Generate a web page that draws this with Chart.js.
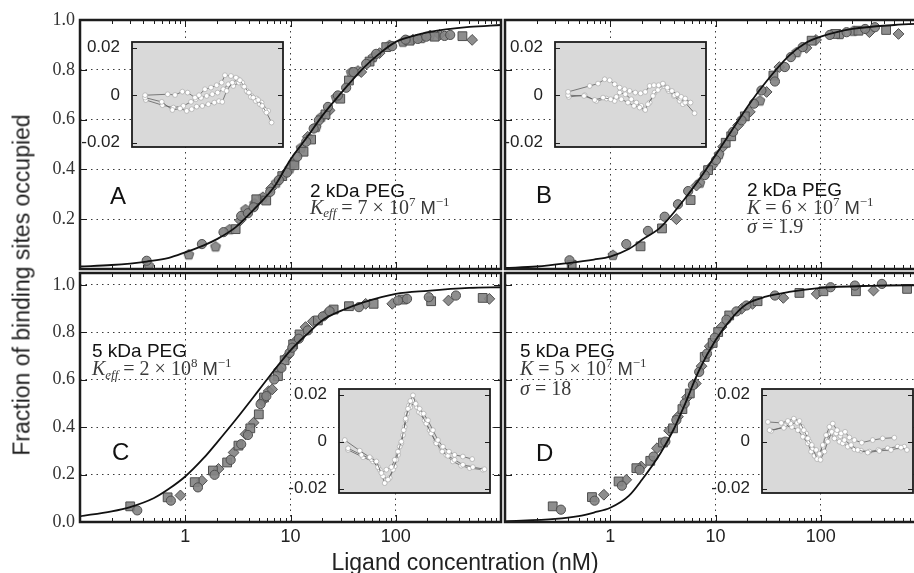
<!DOCTYPE html>
<html>
<head>
<meta charset="utf-8">
<script src="https://cdn.jsdelivr.net/npm/chart.js@4.4.1/dist/chart.umd.min.js"></script>
<style>
  html, body { margin: 0; padding: 0; background: #fff; }
  #fig { position: relative; width: 914px; height: 573px; overflow: hidden; background: #fff;
         font-family: "Liberation Sans", Arial, sans-serif; }
  #fig canvas { position: absolute; left: 0; top: 0; }
  .lbl { position: absolute; white-space: nowrap; line-height: 1; color: #111; }
  .pl  { font-size: 24px; }
  .an  { font-size: 19px; }
  .mk  { font-family: "Liberation Serif", "Times New Roman", serif; font-size: 20px; color: #3a3a3a; }
  .mk sup, .mk sub { font-size: 0.65em; vertical-align: baseline; position: relative; line-height: 0; }
  .mk sup { top: -0.6em; }
  .mk sub { top: 0.3em; font-style: italic; }
  .mk .m  { font-family: "Liberation Sans", Arial, sans-serif; font-size: 0.92em; }
  .yt { font-size: 23px; left: 21.8px; top: 285px; transform: translate(-50%, -50%) rotate(-90deg); color: #222; }
  .xt { font-size: 23px; left: 465px; top: 550.5px; transform: translateX(-50%); color: #222; }
</style>
</head>
<body>
<div id="fig">
  <canvas id="cA" width="940" height="573"></canvas>
  <canvas id="cB" width="940" height="573"></canvas>
  <canvas id="cC" width="940" height="573"></canvas>
  <canvas id="cD" width="940" height="573"></canvas>
  <canvas id="iA" width="940" height="573"></canvas>
  <canvas id="iB" width="940" height="573"></canvas>
  <canvas id="iC" width="940" height="573"></canvas>
  <canvas id="iD" width="940" height="573"></canvas>

  <div class="lbl pl" style="left:110px;top:183.7px">A</div>
  <div class="lbl pl" style="left:536px;top:183.2px">B</div>
  <div class="lbl pl" style="left:112px;top:440.4px">C</div>
  <div class="lbl pl" style="left:536px;top:441.4px">D</div>

  <div class="lbl an" style="left:310px;top:180.6px">2 kDa PEG</div>
  <div class="lbl mk" style="left:310px;top:196.5px"><i>K</i><sub>eff</sub> = 7 × 10<sup>7</sup> <span class="m">M</span><sup>−1</sup></div>

  <div class="lbl an" style="left:747px;top:179.9px">2 kDa PEG</div>
  <div class="lbl mk" style="left:747px;top:196.5px"><i>K</i> = 6 × 10<sup>7</sup> <span class="m">M</span><sup>−1</sup></div>
  <div class="lbl mk" style="left:747px;top:216.2px"><i>σ</i> = 1.9</div>

  <div class="lbl an" style="left:92px;top:340.6px">5 kDa PEG</div>
  <div class="lbl mk" style="left:92px;top:358.2px"><i>K</i><sub>eff</sub> = 2 × 10<sup>8</sup> <span class="m">M</span><sup>−1</sup></div>

  <div class="lbl an" style="left:520px;top:340.6px">5 kDa PEG</div>
  <div class="lbl mk" style="left:520px;top:358.2px"><i>K</i> = 5 × 10<sup>7</sup> <span class="m">M</span><sup>−1</sup></div>
  <div class="lbl mk" style="left:520px;top:378.2px"><i>σ</i> = 18</div>

  <div class="lbl yt">Fraction of binding sites occupied</div>
  <div class="lbl xt">Ligand concentration (nM)</div>
</div>

<script>
// ── Data: [concentration nM, fraction occupied] ─────────────────────────────
const aCircles   = [[0.43,0.033],[1.44,0.10],[2.31,0.148],[3.40,0.213],[3.94,0.224],[4.46,0.248],[6.42,0.31],[7.76,0.357],[9.24,0.387],[11.6,0.451],[14.1,0.511],[16.6,0.564],[18.6,0.597],[22.7,0.651],[28.2,0.697],[33.8,0.728],[39.7,0.791],[52.4,0.824],[65.2,0.864],[92.5,0.895],[124,0.921],[162,0.924],[195,0.933],[291,0.936],[329,0.94]];
const aSquares   = [[3.01,0.16],[4.73,0.28],[5.88,0.275],[8.35,0.373],[10.9,0.417],[13.3,0.471],[15.7,0.52],[21.5,0.621],[29.7,0.684],[35.9,0.757],[56.4,0.833],[81.2,0.891],[135,0.917],[234,0.933],[430,0.935]];
const aDiamonds  = [[3.33,0.195],[6.56,0.324],[8.78,0.381],[14.6,0.531],[23.5,0.637],[47.0,0.791],[70.2,0.867],[146,0.921],[261,0.94],[532,0.92]];
const aPentagons = [[0.45,0.015],[1.08,0.059],[1.94,0.091],[2.64,0.16],[3.74,0.24],[4.56,0.264],[5.47,0.29],[7.32,0.347],[9.8,0.404],[10.7,0.427],[12.6,0.488],[17.5,0.571],[19.6,0.611],[27.2,0.691],[37.8,0.791],[43.7,0.797],[60.7,0.851],[87.3,0.90],[117,0.913],[175,0.928],[212,0.94]];

const bCircles   = [[0.41,0.035],[1.42,0.10],[2.28,0.153],[3.29,0.21],[4.4,0.26],[5.5,0.313],[7.9,0.377],[10.1,0.437],[14.7,0.551],[17.7,0.597],[23.2,0.664],[27.3,0.717],[36.7,0.753],[45.6,0.811],[52.0,0.851],[67.3,0.891],[122,0.94],[176,0.951],[264,0.964],[327,0.971]];
const bSquares   = [[0.43,0.017],[1.94,0.091],[3.1,0.163],[5.8,0.277],[8.5,0.397],[12.5,0.507],[14.1,0.533],[19.0,0.613],[35.5,0.777],[81.9,0.917],[137,0.944],[228,0.957],[418,0.96]];
const bDiamonds  = [[4.25,0.2],[6.6,0.335],[9.3,0.415],[11.8,0.491],[16.4,0.577],[21.2,0.631],[30.6,0.711],[40.4,0.811],[73.1,0.888],[90.2,0.92],[290,0.951],[548,0.944]];
const bPentagons = [[1.06,0.057],[7.1,0.347],[10.8,0.461],[26.4,0.677],[58.9,0.871],[152,0.944],[204,0.957]];

const cCircles   = [[0.35,0.049],[0.73,0.09],[1.32,0.146],[1.9,0.199],[2.7,0.262],[3.4,0.328],[3.94,0.367],[5.2,0.497],[5.9,0.531],[7.0,0.601],[8.2,0.65],[9.8,0.713],[10.4,0.735],[12.0,0.773],[14.6,0.808],[20.3,0.867],[23.5,0.889],[44.7,0.906],[105,0.934],[128,0.941],[206,0.948],[373,0.955]];
const cSquares   = [[0.30,0.066],[0.68,0.104],[1.23,0.168],[1.83,0.217],[2.5,0.251],[3.2,0.322],[4.15,0.395],[5.0,0.454],[5.6,0.525],[7.6,0.615],[8.8,0.682],[10.6,0.749],[12.2,0.791],[18.2,0.85],[25.7,0.896],[35.9,0.91],[61.6,0.92],[117,0.938],[217,0.931],[670,0.945]];
const cDiamonds  = [[0.9,0.112],[1.44,0.174],[2.07,0.224],[2.88,0.293],[3.74,0.37],[4.46,0.419],[5.4,0.51],[6.2,0.552],[6.7,0.559],[7.8,0.643],[9.2,0.696],[11.2,0.763],[13.9,0.822],[16.3,0.846],[21.6,0.875],[51.8,0.92],[92.6,0.92],[317,0.934],[775,0.941]];

const dCircles   = [[0.34,0.052],[0.71,0.09],[1.29,0.153],[1.9,0.22],[2.58,0.276],[3.34,0.339],[4.25,0.43],[5.1,0.5],[6.1,0.577],[7.0,0.633],[8.3,0.71],[9.85,0.777],[12.7,0.853],[15.8,0.888],[19.7,0.913],[36.7,0.955],[124,0.99],[211,0.997],[381,1.004]];
const dSquares   = [[0.284,0.066],[0.67,0.105],[1.2,0.171],[1.77,0.227],[2.4,0.258],[3.17,0.335],[3.95,0.395],[4.85,0.476],[5.7,0.542],[7.9,0.696],[9.4,0.755],[10.6,0.801],[13.5,0.871],[25.1,0.931],[62.7,0.966],[106,0.973],[216,0.973],[661,0.983]];
const dDiamonds  = [[0.87,0.115],[1.42,0.178],[1.97,0.234],[2.78,0.311],[3.62,0.385],[4.4,0.444],[5.37,0.525],[6.5,0.584],[7.36,0.657],[8.8,0.741],[11.4,0.822],[17.7,0.899],[22.5,0.92],[44.1,0.945],[91.5,0.962],[317,0.976]];

// fitted curves, sampled by eye from the figure
const curveAx = [0.1,0.2,0.3,0.43,0.7,1,1.5,2,3,5,7,10,15,20,30,50,70,100,150,200,300,500,1000];
const curveAy = [0.01,0.016,0.022,0.03,0.045,0.067,0.095,0.12,0.167,0.26,0.33,0.44,0.54,0.615,0.705,0.81,0.865,0.912,0.937,0.95,0.962,0.972,0.98];
const curveBx = [0.1,0.2,0.4,0.7,1,1.5,2,3,5,7,10,15,20,30,50,70,100,200,500,1000];
const curveBy = [0.004,0.01,0.024,0.038,0.05,0.08,0.117,0.167,0.277,0.36,0.457,0.57,0.65,0.75,0.857,0.905,0.933,0.964,0.98,0.986];
const curveCx = [0.1,0.2,0.3,0.5,0.7,1,1.5,2,3,5,7,10,15,20,30,50,100,200,500,1000];
const curveCy = [0.024,0.045,0.063,0.1,0.14,0.192,0.27,0.335,0.43,0.556,0.64,0.724,0.8,0.85,0.89,0.927,0.962,0.975,0.987,0.99];
const curveDx = [0.1,0.3,0.5,0.7,1,1.5,2,3,4,5,7,10,15,20,30,50,100,300,1000];
const curveDy = [0.003,0.013,0.025,0.04,0.06,0.11,0.178,0.29,0.39,0.486,0.64,0.766,0.87,0.92,0.95,0.97,0.987,0.996,0.999];

// residual insets: x = log10(concentration), y = residual
const resA1x = [-0.37,0.183,0.362,0.54,0.67,0.85,0.947,1.093,1.24,1.378,1.5,1.581,1.728,1.85,1.947,2.053,2.167,2.272,2.394,2.492,2.597,2.72];
const resA1y = [0,0.0004,0.0001,0.0015,0.0011,-0.001,0,0.0025,0.0032,0.0042,0.0053,0.0084,0.0081,0.0074,0.0063,0.0036,0.0011,-0.001,-0.002,-0.0045,-0.0073,-0.0115];
const resA2x = [-0.37,0.037,0.297,0.484,0.646,0.768,0.89,1.028,1.175,1.321,1.435,1.516,1.622,1.76,1.906,2.004,2.11,2.215,2.33,2.435,2.557];
const resA2y = [-0.001,-0.0028,-0.0062,-0.0056,-0.0066,-0.0059,-0.0048,-0.0045,-0.0038,-0.0031,-0.0025,-0.0028,0.0018,0.0053,0.0067,0.0053,0.0018,-0.0007,-0.0024,-0.0038,-0.0062];
const resA3x = [-0.354,0.053,0.321,0.565,0.752,0.866,0.996,1.134,1.272,1.402,1.54,1.663,1.785,1.923,2.028,2.134,2.232,2.354,2.476,2.638];
const resA3y = [-0.002,-0.0042,-0.0052,-0.0045,-0.0028,-0.0017,-0.0011,-0.0003,0.0004,0.0011,0.0025,0.0046,0.0039,0.0053,0.0039,0.0014,-0.0003,-0.0014,-0.0031,-0.0066];

const resB1x = [-0.37,0.158,0.362,0.524,0.646,0.768,0.89,1.012,1.134,1.272,1.402,1.516,1.622,1.728,1.841,1.947,2.053,2.167,2.297,2.394,2.492,2.622];
const resB1y = [0.0014,0.0039,0.0049,0.0067,0.0063,0.0046,0.0032,0.0025,0.0018,0.0011,0.0008,0.0014,0.0039,0.0042,0.0042,0.0049,0.0032,0.0018,0.0004,-0.0007,-0.0014,-0.0031];
const resB2x = [-0.37,0.02,0.28,0.484,0.671,0.809,0.931,1.093,1.24,1.378,1.516,1.581,1.703,1.825,1.947,2.069,2.232,2.378,2.492,2.72];
const resB2y = [0,-0.0003,-0.002,-0.001,-0.0017,-0.0007,-0.0017,-0.0031,-0.0045,-0.0052,-0.0062,-0.0038,-0.0003,0.0022,0.0046,0.0025,0,-0.0014,-0.0031,-0.0076];
const resB3x = [-0.354,0.037,0.321,0.565,0.768,0.89,1.028,1.175,1.297,1.419,1.5,1.622,1.744,1.866,1.971,2.085,2.215,2.354,2.435];
const resB3y = [-0.0007,0,-0.0024,-0.0014,-0.0024,0.0011,0.0004,-0.0017,-0.0031,-0.0045,-0.0059,-0.0031,0.0011,0.0032,0.0039,0.0018,-0.0003,-0.0024,-0.0038];

const resC1x = [-0.549,-0.183,0.061,0.224,0.346,0.468,0.589,0.671,0.752,0.833,0.89,0.939,0.996,1.053,1.118,1.183,1.28,1.378,1.484,1.606,1.728,1.85,1.996,2.134,2.337,2.565];
const resC1y = [0.0007,-0.0038,-0.0066,-0.0084,-0.0133,-0.0119,-0.0108,-0.0077,-0.0042,0,0.0049,0.0098,0.014,0.0173,0.0197,0.0161,0.014,0.0119,0.0091,0.0049,0.0007,-0.0021,-0.0042,-0.0056,-0.0063,-0.0074];
const resC2x = [-0.467,-0.142,0.102,0.264,0.386,0.508,0.63,0.711,0.793,0.874,0.939,1.02,1.102,1.215,1.321,1.443,1.565,1.687,1.833,1.972,2.134,2.337,2.581,2.866];
const resC2y = [-0.0028,-0.0056,-0.0074,-0.0108,-0.0147,-0.0161,-0.0119,-0.0077,-0.0021,0.0028,0.0091,0.0154,0.0176,0.0147,0.0119,0.0077,0.0035,-0.0007,-0.0042,-0.006,-0.0077,-0.0098,-0.0108,-0.0117];
const resC3x = [-0.467,-0.102,0.142,0.305,0.427,0.549,0.671,0.752,0.833,0.915,0.972,1.053,1.159,1.264,1.402,1.524,1.671,1.809,1.931,2.093,2.297,2.5,2.825];
const resC3y = [-0.0035,-0.0066,-0.0084,-0.0119,-0.0176,-0.0154,-0.0105,-0.0056,-0.0007,0.0063,0.0119,0.0147,0.0168,0.0126,0.0091,0.0049,0,-0.0028,-0.0056,-0.0084,-0.0102,-0.0112,-0.0119];

const resD1x = [-0.546,-0.221,-0.058,0.088,0.226,0.332,0.43,0.527,0.633,0.714,0.795,0.876,0.958,1.039,1.145,1.243,1.34,1.446,1.568,1.747,2.015,2.259,2.543];
const resD1y = [0.0084,0.008,0.0088,0.0098,0.0088,0.0049,0.0014,-0.0014,-0.0035,-0.0052,-0.0014,0.0028,0.0063,0.0077,0.0049,0.0035,0.0042,0.0018,0.0007,-0.0004,0.0007,0.0014,0.0017];
const resD2x = [-0.505,-0.156,0.007,0.169,0.283,0.389,0.47,0.552,0.657,0.739,0.836,0.917,1.015,1.121,1.226,1.324,1.487,1.649,1.893,2.177,2.462,2.706,2.852];
const resD2y = [0.0049,0.0059,0.0077,0.008,0.0063,0.0035,0,-0.0028,-0.0074,-0.0077,-0.0042,0,0.0042,0.0035,0.0024,0.0007,-0.0014,-0.0035,-0.0046,-0.0039,-0.0035,-0.0025,-0.0035];
const resD3x = [-0.465,-0.123,0.04,0.186,0.308,0.43,0.511,0.592,0.69,0.795,0.876,0.982,1.08,1.202,1.283,1.405,1.568,1.731,1.934,2.153,2.381,2.625,2.787];
const resD3y = [0.0046,0.0066,0.0063,0.0049,0.0021,-0.0007,-0.0042,-0.006,-0.0066,-0.0021,0.0007,0.0035,0.0014,0,-0.0007,-0.0021,-0.0032,-0.0038,-0.0042,-0.0035,-0.0028,-0.0021,-0.0021];

const xMajor  = [1, 10, 100];
const yTicksAB = [0.2, 0.4, 0.6, 0.8, 1.0];
const yTicksCD = [0, 0.2, 0.4, 0.6, 0.8, 1.0];
const resTicks = [-0.02, 0, 0.02];

// ── Layout ───────────────────────────────────────────────────────────────────
const W = 940, H = 573;
const FILL = 'rgba(132,132,132,0.92)', EDGE = '#4e4e4e';

const xMinor = [];
for (const d of [0.1, 1, 10, 100]) for (let k = 2; k <= 9; k++) xMinor.push(+(k * d).toPrecision(2));

const pairs = (arr) => arr.map((p) => ({ x: p[0], y: p[1] }));
const zip = (xs, ys) => xs.map((v, i) => ({ x: v, y: ys[i] }));

function pentagon(r) {
  const s = Math.ceil(2 * r + 3);
  const c = document.createElement('canvas');
  c.width = c.height = s;
  const g = c.getContext('2d');
  g.beginPath();
  for (let i = 0; i < 5; i++) {
    const a = -Math.PI / 2 + i * 2 * Math.PI / 5;
    g.lineTo(s / 2 + r * Math.cos(a), s / 2 + 0.5 + r * Math.sin(a));
  }
  g.closePath();
  g.fillStyle = FILL; g.fill();
  g.strokeStyle = EDGE; g.lineWidth = 1; g.stroke();
  return c;
}
const PENT = pentagon(5.2);

// frame + inward tick marks (and optional background for insets)
const framePlugin = {
  id: 'frame',
  beforeDraw(chart, args, o) {
    if (!o.bg) return;
    const { ctx, chartArea: a } = chart;
    ctx.save();
    ctx.fillStyle = o.bg;
    ctx.fillRect(a.left, a.top, a.right - a.left, a.bottom - a.top);
    ctx.restore();
  },
  afterDraw(chart, args, o) {
    const { ctx, chartArea: a, scales } = chart;
    ctx.save();
    ctx.strokeStyle = '#1c1c1c';
    ctx.lineWidth = 1;
    ctx.beginPath();
    (o.xt || []).forEach((t) => {
      const px = Math.round(scales.x.getPixelForValue(t.v)) + 0.5;
      ctx.moveTo(px, a.top); ctx.lineTo(px, a.top + t.len);
      ctx.moveTo(px, a.bottom); ctx.lineTo(px, a.bottom - t.len);
    });
    (o.yt || []).forEach((t) => {
      const py = Math.round(scales.y.getPixelForValue(t.v)) + 0.5;
      ctx.moveTo(a.left, py); ctx.lineTo(a.left + t.len, py);
      ctx.moveTo(a.right, py); ctx.lineTo(a.right - t.len, py);
    });
    ctx.stroke();
    ctx.lineWidth = o.width || 2;
    ctx.strokeRect(a.left, a.top, a.right - a.left, a.bottom - a.top);
    ctx.restore();
  },
};

function mainChart(id, box, curve, sets, showX, showY, yMax, yTicks) {
  const yw = showY ? 45 : 0, xh = showX ? 30 : 0;
  const xt = xMajor.map((v) => ({ v, len: 7 })).concat(xMinor.map((v) => ({ v, len: 4 })));
  const yt = yTicks.filter((v) => v > 0 && v < yMax).map((v) => ({ v, len: 7 }));
  return new Chart(document.getElementById(id), {
    type: 'scatter',
    data: {
      datasets: [
        { type: 'line', data: curve, showLine: true, borderColor: '#111', borderWidth: 1.8,
          pointRadius: 0, cubicInterpolationMode: 'monotone', fill: false, order: 0 },
        ...sets.map((s) => ({
          data: s.data, pointStyle: s.style, pointRadius: s.r,
          pointBackgroundColor: FILL, pointBorderColor: EDGE, pointBorderWidth: 1, order: 1,
        })),
      ],
    },
    options: {
      responsive: false, animation: false, events: [],
      layout: { padding: { left: box.l - yw, right: W - box.r, top: box.t, bottom: H - box.b - xh } },
      plugins: { legend: { display: false }, tooltip: { enabled: false }, frame: { xt, yt, width: 2.5 } },
      scales: {
        x: {
          type: 'logarithmic', min: 0.1, max: 1000,
          afterBuildTicks: (s) => { s.ticks = xMajor.map((v) => ({ value: v })); },
          afterFit: (s) => { s.height = xh; },
          grid: { color: '#3a3a3a', lineWidth: 1, drawTicks: false },
          border: { display: false, dash: [1.5, 4] },
          ticks: { display: showX, autoSkip: false, maxRotation: 0, padding: 4, color: '#222',
                   font: { family: 'Liberation Sans', size: 18 }, callback: (v) => String(v) },
        },
        y: {
          min: 0, max: yMax,
          afterBuildTicks: (s) => { s.ticks = yTicks.map((v) => ({ value: v })); },
          afterFit: (s) => { s.width = yw; },
          grid: { color: '#3a3a3a', lineWidth: 1, drawTicks: false },
          border: { display: false, dash: [1.5, 4] },
          ticks: { display: showY, padding: 5, color: '#333',
                   font: { family: 'Liberation Serif', size: 18 }, callback: (v) => v.toFixed(1) },
        },
      },
    },
    plugins: [framePlugin],
  });
}

function insetChart(id, box, traces) {
  const yw = 52;
  return new Chart(document.getElementById(id), {
    type: 'scatter',
    data: {
      datasets: traces.map((t) => ({
        data: zip(t[0], t[1]), showLine: true, borderColor: '#5e5e5e', borderWidth: 0.8,
        pointRadius: 2.4, pointBackgroundColor: '#fff', pointBorderColor: '#a0a0a0', pointBorderWidth: 0.6,
      })),
    },
    options: {
      responsive: false, animation: false, events: [],
      layout: { padding: { left: box.l - yw, right: W - box.r, top: box.t, bottom: H - box.b } },
      plugins: { legend: { display: false }, tooltip: { enabled: false },
                 frame: { bg: '#d9d9d9', width: 1.8, yt: resTicks.map((v) => ({ v, len: 5 })) } },
      scales: {
        x: { type: 'linear', min: -0.69, max: 3.0, afterFit: (s) => { s.height = 0; },
             ticks: { display: false }, grid: { display: false }, border: { display: false } },
        y: {
          min: -0.0218, max: 0.0224,
          afterBuildTicks: (s) => { s.ticks = resTicks.map((v) => ({ value: v })); },
          afterFit: (s) => { s.width = yw; },
          grid: { display: false }, border: { display: false },
          ticks: { padding: 4, color: '#222', font: { family: 'Liberation Sans', size: 17 },
                   callback: (v) => (v === 0 ? '0' : v.toFixed(2)) },
        },
      },
    },
    plugins: [framePlugin],
  });
}

const shapes = (c, s, d, p) => [
  { data: pairs(c), style: 'circle', r: 4.6 },
  { data: pairs(s), style: 'rect', r: 6.2 },
  { data: pairs(d), style: 'rectRot', r: 5.4 },
  ...(p ? [{ data: pairs(p), style: PENT, r: 5 }] : []),
];

mainChart('cA', { l: 80, r: 501, t: 20, b: 269 }, zip(curveAx, curveAy),
  shapes(aCircles, aSquares, aDiamonds, aPentagons), false, true, 1.0, yTicksAB);
mainChart('cB', { l: 505, r: 926, t: 20, b: 269 }, zip(curveBx, curveBy),
  shapes(bCircles, bSquares, bDiamonds, bPentagons), false, false, 1.0, yTicksAB);
mainChart('cC', { l: 80, r: 501, t: 273, b: 522 }, zip(curveCx, curveCy),
  shapes(cCircles, cSquares, cDiamonds), true, true, 1.05, yTicksCD);
mainChart('cD', { l: 505, r: 926, t: 273, b: 522 }, zip(curveDx, curveDy),
  shapes(dCircles, dSquares, dDiamonds), true, false, 1.05, yTicksCD);

insetChart('iA', { l: 132, r: 283, t: 42, b: 147 }, [[resA1x, resA1y], [resA2x, resA2y], [resA3x, resA3y]]);
insetChart('iB', { l: 555, r: 706, t: 42, b: 147 }, [[resB1x, resB1y], [resB2x, resB2y], [resB3x, resB3y]]);
insetChart('iC', { l: 339, r: 490, t: 389, b: 493 }, [[resC1x, resC1y], [resC2x, resC2y], [resC3x, resC3y]]);
insetChart('iD', { l: 762, r: 913, t: 389, b: 493 }, [[resD1x, resD1y], [resD2x, resD2y], [resD3x, resD3y]]);
</script>
</body>
</html>
